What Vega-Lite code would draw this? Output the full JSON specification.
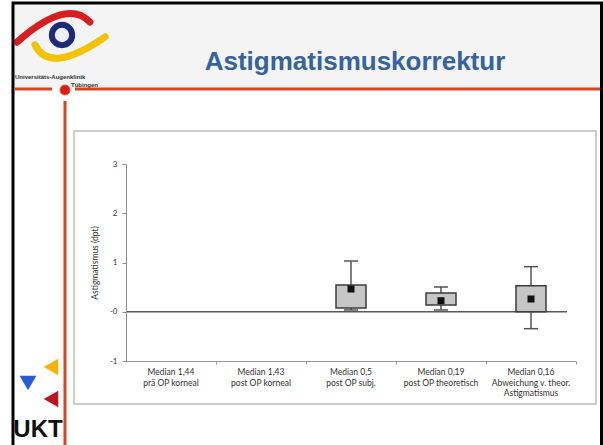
{
  "$schema": "https://vega.github.io/schema/vega-lite/v6.json",
  "width": 450,
  "height": 197,
  "autosize": {"type": "none"},
  "padding": {"left": 126, "top": 164, "right": 27, "bottom": 84},
  "background": "white",
  "config": {"view": {"stroke": null}, "font": "Lato"},
  "data": {
    "values": [
      {"cat": 1, "label": "Median 1,44\nprä OP korneal"},
      {"cat": 2, "label": "Median 1,43\npost OP korneal"},
      {"cat": 3, "label": "Median 0,5\npost OP subj.", "low": 0.036, "q1": 0.076, "q3": 0.543, "high": 1.03, "mean": 0.462},
      {"cat": 4, "label": "Median 0,19\npost OP theoretisch", "low": 0.036, "q1": 0.137, "q3": 0.381, "high": 0.503, "mean": 0.224},
      {"cat": 5, "label": "Median 0,16\nAbweichung v. theor.\nAstigmatismus", "low": -0.344, "q1": 0.001, "q3": 0.529, "high": 0.915, "mean": 0.259}
    ]
  },
  "layer": [
    {
      "mark": {"type": "rule", "color": "#555555", "strokeWidth": 1.5, "opacity": 0},
      "encoding": {
        "x": {
          "field": "cat", "type": "quantitative",
          "scale": {"domain": [0.5, 5.5], "nice": false, "zero": false, "padding": 0},
          "axis": {"values": [1.5, 2.5, 3.5, 4.5, 5.5], "labels": false, "ticks": true, "tickSize": 3, "tickColor": "#9a9a9a", "domainColor": "#9a9a9a", "domainWidth": 1, "grid": false, "title": null, "zindex": 1}
        },
        "y": {
          "field": "low", "type": "quantitative",
          "scale": {"domain": [-1, 3], "nice": false, "zero": false, "padding": 0},
          "axis": {"values": [-1, 0, 1, 2, 3], "labelExpr": "datum.value === 0 ? '-0' : '' + datum.value", "tickSize": 4, "tickColor": "#8c8c8c", "domainColor": "#8c8c8c", "labelFont": "Lato", "labelFontSize": 8, "labelColor": "#333333", "labelPadding": 5, "grid": false, "title": "Astigmatismus (dpt)", "titleFont": "Lato", "titleFontSize": 8.5, "titleFontWeight": "normal", "titleColor": "#333333", "titlePadding": 10, "zindex": 1}
        },
        "y2": {"field": "high"}
      }
    },
    {
      "data": {"values": [{}]},
      "mark": {"type": "rect", "fill": "#f4f4f4", "clip": false},
      "encoding": {
        "x": {"datum": -0.7556, "type": "quantitative", "scale": {"domain": [0.5, 5.5], "nice": false, "zero": false, "padding": 0}},
        "x2": {"datum": 5.7778},
        "y": {"datum": 6.269, "type": "quantitative", "scale": {"domain": [-1, 3], "nice": false, "zero": false, "padding": 0}},
        "y2": {"datum": 4.543}
      }
    },
    {
      "data": {"values": [{}]},
      "mark": {"type": "rect", "fill": "white", "stroke": "#bdbdbd", "strokeWidth": 1.5, "clip": false},
      "encoding": {
        "x": {"datum": -0.0778, "type": "quantitative", "scale": {"domain": [0.5, 5.5], "nice": false, "zero": false, "padding": 0}},
        "x2": {"datum": 5.7222},
        "y": {"datum": 3.67, "type": "quantitative", "scale": {"domain": [-1, 3], "nice": false, "zero": false, "padding": 0}},
        "y2": {"datum": -1.8731}
      }
    },
    {
      "data": {"values": [{}]},
      "mark": {"type": "point", "shape": "M-0.6,0.22Q-0.27,0.89 0.96,0.04", "filled": false, "stroke": "#f3c300", "strokeWidth": 7, "strokeCap": "round", "size": 8100, "opacity": 1, "clip": false},
      "encoding": {
        "x": {"datum": -0.2111, "type": "quantitative", "scale": {"domain": [0.5, 5.5], "nice": false, "zero": false, "padding": 0}},
        "y": {"datum": 5.6193, "type": "quantitative", "scale": {"domain": [-1, 3], "nice": false, "zero": false, "padding": 0}}
      }
    },
    {
      "data": {"values": [{}]},
      "mark": {"type": "point", "shape": "M-1,0.16Q0.1,-0.82 0.62,-0.29", "filled": false, "stroke": "#d81e1e", "strokeWidth": 7, "strokeCap": "round", "size": 8100, "opacity": 1, "clip": false},
      "encoding": {
        "x": {"datum": -0.2111, "type": "quantitative", "scale": {"domain": [0.5, 5.5], "nice": false, "zero": false, "padding": 0}},
        "y": {"datum": 5.6193, "type": "quantitative", "scale": {"domain": [-1, 3], "nice": false, "zero": false, "padding": 0}}
      }
    },
    {
      "data": {"values": [{}]},
      "mark": {"type": "point", "shape": "circle", "filled": true, "fill": "#eef0f6", "stroke": "#1d2a7a", "strokeWidth": 6, "size": 415, "opacity": 1, "clip": false},
      "encoding": {
        "x": {"datum": -0.2111, "type": "quantitative", "scale": {"domain": [0.5, 5.5], "nice": false, "zero": false, "padding": 0}},
        "y": {"datum": 5.6193, "type": "quantitative", "scale": {"domain": [-1, 3], "nice": false, "zero": false, "padding": 0}}
      }
    },
    {
      "data": {"values": [{}]},
      "mark": {"type": "text", "text": "Universitäts-Augenklinik", "font": "Liberation Sans", "fontSize": 6, "fontWeight": "bold", "color": "#333333", "align": "left", "baseline": "alphabetic", "clip": false},
      "encoding": {
        "x": {"datum": -0.7333, "type": "quantitative", "scale": {"domain": [0.5, 5.5], "nice": false, "zero": false, "padding": 0}},
        "y": {"datum": 4.7259, "type": "quantitative", "scale": {"domain": [-1, 3], "nice": false, "zero": false, "padding": 0}}
      }
    },
    {
      "data": {"values": [{}]},
      "mark": {"type": "text", "text": "Tübingen", "font": "Liberation Sans", "fontSize": 6, "fontWeight": "bold", "color": "#333333", "align": "right", "baseline": "alphabetic", "clip": false},
      "encoding": {
        "x": {"datum": 0.1889, "type": "quantitative", "scale": {"domain": [0.5, 5.5], "nice": false, "zero": false, "padding": 0}},
        "y": {"datum": 4.5635, "type": "quantitative", "scale": {"domain": [-1, 3], "nice": false, "zero": false, "padding": 0}}
      }
    },
    {
      "data": {"values": [{}]},
      "mark": {"type": "point", "shape": "triangle-left", "filled": true, "color": "#f5b400", "size": 280, "opacity": 1, "clip": false},
      "encoding": {
        "x": {"datum": -0.3333, "type": "quantitative", "scale": {"domain": [0.5, 5.5], "nice": false, "zero": false, "padding": 0}},
        "y": {"datum": -1.1218, "type": "quantitative", "scale": {"domain": [-1, 3], "nice": false, "zero": false, "padding": 0}}
      }
    },
    {
      "data": {"values": [{}]},
      "mark": {"type": "point", "shape": "triangle-down", "filled": true, "color": "#2a5bd7", "size": 280, "opacity": 1, "clip": false},
      "encoding": {
        "x": {"datum": -0.5889, "type": "quantitative", "scale": {"domain": [0.5, 5.5], "nice": false, "zero": false, "padding": 0}},
        "y": {"datum": -1.4467, "type": "quantitative", "scale": {"domain": [-1, 3], "nice": false, "zero": false, "padding": 0}}
      }
    },
    {
      "data": {"values": [{}]},
      "mark": {"type": "point", "shape": "triangle-left", "filled": true, "color": "#c0141e", "size": 280, "opacity": 1, "clip": false},
      "encoding": {
        "x": {"datum": -0.3333, "type": "quantitative", "scale": {"domain": [0.5, 5.5], "nice": false, "zero": false, "padding": 0}},
        "y": {"datum": -1.7716, "type": "quantitative", "scale": {"domain": [-1, 3], "nice": false, "zero": false, "padding": 0}}
      }
    },
    {
      "data": {"values": [{}]},
      "mark": {"type": "text", "text": "UKT", "font": "Liberation Sans", "fontSize": 24, "fontWeight": "bold", "color": "#111111", "align": "center", "baseline": "alphabetic", "clip": false},
      "encoding": {
        "x": {"datum": -0.4778, "type": "quantitative", "scale": {"domain": [0.5, 5.5], "nice": false, "zero": false, "padding": 0}},
        "y": {"datum": -2.5432, "type": "quantitative", "scale": {"domain": [-1, 3], "nice": false, "zero": false, "padding": 0}}
      }
    },
    {
      "data": {"values": [{}]},
      "mark": {"type": "rule", "color": "#d8441c", "strokeWidth": 3, "clip": false},
      "encoding": {
        "x": {"datum": -0.7333, "type": "quantitative", "scale": {"domain": [0.5, 5.5], "nice": false, "zero": false, "padding": 0}},
        "x2": {"datum": -0.3222},
        "y": {"datum": 4.5228, "type": "quantitative", "scale": {"domain": [-1, 3], "nice": false, "zero": false, "padding": 0}}
      }
    },
    {
      "data": {"values": [{}]},
      "mark": {"type": "rule", "color": "#d8441c", "strokeWidth": 3, "clip": false},
      "encoding": {
        "x": {"datum": -0.0667, "type": "quantitative", "scale": {"domain": [0.5, 5.5], "nice": false, "zero": false, "padding": 0}},
        "x2": {"datum": 5.8},
        "y": {"datum": 4.5228, "type": "quantitative", "scale": {"domain": [-1, 3], "nice": false, "zero": false, "padding": 0}}
      }
    },
    {
      "data": {"values": [{}]},
      "mark": {"type": "rule", "color": "#d8441c", "strokeWidth": 3, "clip": false},
      "encoding": {
        "x": {"datum": -0.1778, "type": "quantitative", "scale": {"domain": [0.5, 5.5], "nice": false, "zero": false, "padding": 0}},
        "y": {"datum": 4.2792, "type": "quantitative", "scale": {"domain": [-1, 3], "nice": false, "zero": false, "padding": 0}},
        "y2": {"datum": -2.8071}
      }
    },
    {
      "data": {"values": [{}]},
      "mark": {"type": "point", "shape": "circle", "filled": true, "fill": "#e3151d", "stroke": "#e8592a", "strokeWidth": 1, "size": 100, "opacity": 1, "clip": false},
      "encoding": {
        "x": {"datum": -0.1778, "type": "quantitative", "scale": {"domain": [0.5, 5.5], "nice": false, "zero": false, "padding": 0}},
        "y": {"datum": 4.5025, "type": "quantitative", "scale": {"domain": [-1, 3], "nice": false, "zero": false, "padding": 0}}
      }
    },
    {
      "data": {"values": [{}]},
      "mark": {"type": "rect", "fillOpacity": 0, "stroke": "#000000", "strokeWidth": 3, "clip": false},
      "encoding": {
        "x": {"datum": -0.7556, "type": "quantitative", "scale": {"domain": [0.5, 5.5], "nice": false, "zero": false, "padding": 0}},
        "x2": {"datum": 5.7833},
        "y": {"datum": 6.269, "type": "quantitative", "scale": {"domain": [-1, 3], "nice": false, "zero": false, "padding": 0}},
        "y2": {"datum": -3.2132}
      }
    },
    {
      "data": {"values": [{}]},
      "mark": {"type": "text", "text": "Astigmatismuskorrektur", "font": "Liberation Sans", "fontSize": 26, "fontWeight": "bold", "color": "#3463a0", "align": "center", "baseline": "alphabetic", "clip": false},
      "encoding": {
        "x": {"datum": 3.0444, "type": "quantitative", "scale": {"domain": [0.5, 5.5], "nice": false, "zero": false, "padding": 0}},
        "y": {"datum": 4.9086, "type": "quantitative", "scale": {"domain": [-1, 3], "nice": false, "zero": false, "padding": 0}}
      }
    },
    {
      "data": {"values": [{}]},
      "mark": {"type": "rule", "color": "#595959", "strokeWidth": 1.5, "clip": false},
      "encoding": {
        "x": {"datum": 0.5, "type": "quantitative", "scale": {"domain": [0.5, 5.5], "nice": false, "zero": false, "padding": 0}},
        "x2": {"datum": 5.4},
        "y": {"datum": 0, "type": "quantitative", "scale": {"domain": [-1, 3], "nice": false, "zero": false, "padding": 0}}
      }
    },
    {
      "mark": {"type": "rule", "color": "#555555", "strokeWidth": 1.5},
      "encoding": {
        "x": {"field": "cat", "type": "quantitative", "scale": {"domain": [0.5, 5.5], "nice": false, "zero": false, "padding": 0}},
        "y": {"field": "low", "type": "quantitative", "scale": {"domain": [-1, 3], "nice": false, "zero": false, "padding": 0}},
        "y2": {"field": "high"}
      }
    },
    {
      "mark": {"type": "bar", "width": 30, "fill": "#c6c6c6", "stroke": "#3c3c3c", "strokeWidth": 1.5},
      "encoding": {
        "x": {"field": "cat", "type": "quantitative", "scale": {"domain": [0.5, 5.5], "nice": false, "zero": false, "padding": 0}},
        "y": {"field": "q1", "type": "quantitative", "scale": {"domain": [-1, 3], "nice": false, "zero": false, "padding": 0}},
        "y2": {"field": "q3"}
      }
    },
    {
      "mark": {"type": "tick", "orient": "horizontal", "size": 14, "thickness": 1.5, "color": "#555555", "opacity": 1},
      "encoding": {
        "x": {"field": "cat", "type": "quantitative", "scale": {"domain": [0.5, 5.5], "nice": false, "zero": false, "padding": 0}},
        "y": {"field": "high", "type": "quantitative", "scale": {"domain": [-1, 3], "nice": false, "zero": false, "padding": 0}}
      }
    },
    {
      "mark": {"type": "tick", "orient": "horizontal", "size": 14, "thickness": 1.5, "color": "#555555", "opacity": 1},
      "encoding": {
        "x": {"field": "cat", "type": "quantitative", "scale": {"domain": [0.5, 5.5], "nice": false, "zero": false, "padding": 0}},
        "y": {"field": "low", "type": "quantitative", "scale": {"domain": [-1, 3], "nice": false, "zero": false, "padding": 0}}
      }
    },
    {
      "mark": {"type": "point", "shape": "square", "filled": true, "color": "#111111", "size": 49, "opacity": 1},
      "encoding": {
        "x": {"field": "cat", "type": "quantitative", "scale": {"domain": [0.5, 5.5], "nice": false, "zero": false, "padding": 0}},
        "y": {"field": "mean", "type": "quantitative", "scale": {"domain": [-1, 3], "nice": false, "zero": false, "padding": 0}}
      }
    },
    {
      "mark": {"type": "text", "lineBreak": "\n", "baseline": "top", "align": "center", "dy": 7, "font": "Lato", "fontSize": 8.5, "lineHeight": 10.5, "color": "#333333", "clip": false},
      "encoding": {
        "x": {"field": "cat", "type": "quantitative", "scale": {"domain": [0.5, 5.5], "nice": false, "zero": false, "padding": 0}},
        "y": {"datum": -1, "type": "quantitative", "scale": {"domain": [-1, 3], "nice": false, "zero": false, "padding": 0}},
        "text": {"field": "label"}
      }
    }
  ]
}
